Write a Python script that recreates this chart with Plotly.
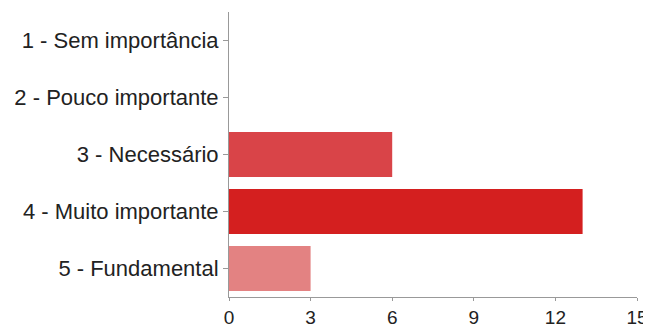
import plotly.graph_objects as go

categories = ["1 - Sem importância", "2 - Pouco importante", "3 - Necessário",
              "4 - Muito importante", "5 - Fundamental"]
values = [0, 0, 6, 13, 3]
colors = ["#d94448", "#d94448", "#d94448", "#d41f1f", "#e38282"]
x_ticks = [0, 3, 6, 9, 12, 15]

fig = go.Figure(go.Bar(
    y=categories, x=values, orientation="h",
    marker=dict(color=colors, line=dict(width=0)),
))
# page body has an 8px default margin, so the figure is sized to fit inside
fig.update_layout(
    width=643, height=319,
    margin=dict(l=221, r=14, t=4, b=30),
    paper_bgcolor="white", plot_bgcolor="white",
    bargap=0.21, showlegend=False,
    font=dict(family="Liberation Sans, Arial, sans-serif", color="#222"),
)
fig.update_xaxes(
    range=[0, 15], tickvals=x_ticks, showgrid=False, zeroline=False,
    showline=True, linecolor="#999", linewidth=1, automargin=False,
    ticks="outside", ticklen=3, tickcolor="#999",
    tickfont=dict(size=19, color="#222"),
)
fig.update_yaxes(
    categoryorder="array", categoryarray=categories, autorange="reversed",
    showgrid=False, showline=True, linecolor="#999", linewidth=1, automargin=False,
    ticks="outside", ticklen=5, tickcolor="#999",
    tickfont=dict(size=22, color="#222"),
)
fig.write_html("out.html")
